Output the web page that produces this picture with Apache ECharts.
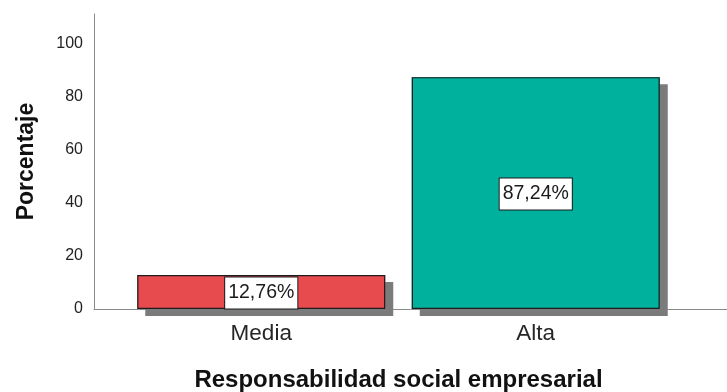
<!DOCTYPE html>
<html>
<head>
<meta charset="utf-8">
<title>Responsabilidad social empresarial</title>
<script src="https://cdn.jsdelivr.net/npm/echarts@6/dist/echarts.min.js"></script>
<style>
  html, body { margin: 0; padding: 0; background: #ffffff; }
  #chart { width: 727px; height: 392px; }
</style>
</head>
<body>
<div id="chart"></div>
<script>
// Niveles de responsabilidad social empresarial y su porcentaje
const categories = ['Media', 'Alta'];
const percentages = [12.76, 87.24];
const barColors = ['#e84b4e', '#00b19d'];
const yTicks = [0, 20, 40, 60, 80, 100];

const fmt = v => v.toFixed(2).replace('.', ',') + '%';

const chart = echarts.init(document.getElementById('chart'), null, { renderer: 'canvas' });

const FONT = '"Liberation Sans", Arial, sans-serif';
const BAR_WIDTH = 248;

const barData = () => percentages.map((v, i) => ({
  value: v,
  itemStyle: { color: barColors[i] }
}));

chart.setOption({
  backgroundColor: '#ffffff',
  animation: false,
  grid: [
    // bars
    { left: 124, right: 54, top: 14, bottom: 83, outerBoundsMode: 'none', containLabel: false },
    // full-width baseline
    { left: 94, right: 0, top: 14, bottom: 83, outerBoundsMode: 'none', containLabel: false }
  ],
  xAxis: [
    {
      gridIndex: 0,
      type: 'category',
      data: categories,
      axisLine: { show: false },
      axisTick: { show: false },
      axisLabel: { fontFamily: FONT, fontSize: 22.5, color: '#262626', margin: 13 },
      name: 'Responsabilidad social empresarial',
      nameLocation: 'middle',
      nameGap: 59,
      nameTextStyle: { fontFamily: FONT, fontSize: 24, fontWeight: 'bold', color: '#111111' }
    },
    {
      gridIndex: 1,
      type: 'value',
      min: 0, max: 1,
      axisLine: { show: true, lineStyle: { color: '#8a8a8a', width: 1 } },
      axisTick: { show: false },
      axisLabel: { show: false },
      splitLine: { show: false }
    }
  ],
  yAxis: [
    {
      gridIndex: 0,
      type: 'value',
      min: yTicks[0],
      max: 111,
      interval: yTicks[1] - yTicks[0],
      offset: 30,
      axisLine: { show: true, lineStyle: { color: '#8a8a8a', width: 1 } },
      axisTick: { show: false },
      splitLine: { show: false },
      axisLabel: {
        showMaxLabel: false,
        fontFamily: FONT, fontSize: 16, color: '#222222', margin: 11,
        formatter: v => (yTicks.includes(v) ? String(v) : '')
      },
      name: 'Porcentaje',
      nameLocation: 'middle',
      nameGap: 56,
      nameTextStyle: { fontFamily: FONT, fontSize: 23, fontWeight: 'bold', color: '#111111' }
    },
    {
      gridIndex: 1,
      type: 'value',
      min: 0, max: 111,
      show: false
    }
  ],
  series: [
    // drop shadow layer (no outline, so only the filled box casts a shadow)
    {
      type: 'bar',
      xAxisIndex: 0,
      yAxisIndex: 0,
      barWidth: BAR_WIDTH,
      z: 2,
      silent: true,
      data: barData(),
      itemStyle: {
        borderWidth: 0,
        shadowColor: '#7b7b7b',
        shadowBlur: 0,
        shadowOffsetX: 8,
        shadowOffsetY: 7
      }
    },
    // outlined bars with value labels
    {
      type: 'bar',
      xAxisIndex: 0,
      yAxisIndex: 0,
      barWidth: BAR_WIDTH,
      barGap: '-100%',
      z: 3,
      data: barData(),
      itemStyle: {
        borderColor: '#1c1c1c',
        borderWidth: 1.2
      },
      label: {
        show: true,
        position: 'inside',
        offset: [0, 1],
        formatter: p => fmt(p.value),
        fontFamily: FONT,
        fontSize: 19.5,
        lineHeight: 22,
        color: '#1a1a1a',
        backgroundColor: '#ffffff',
        borderColor: '#1a1a1a',
        borderWidth: 1,
        padding: [5, 3, 4, 3]
      }
    }
  ]
});
</script>
</body>
</html>
